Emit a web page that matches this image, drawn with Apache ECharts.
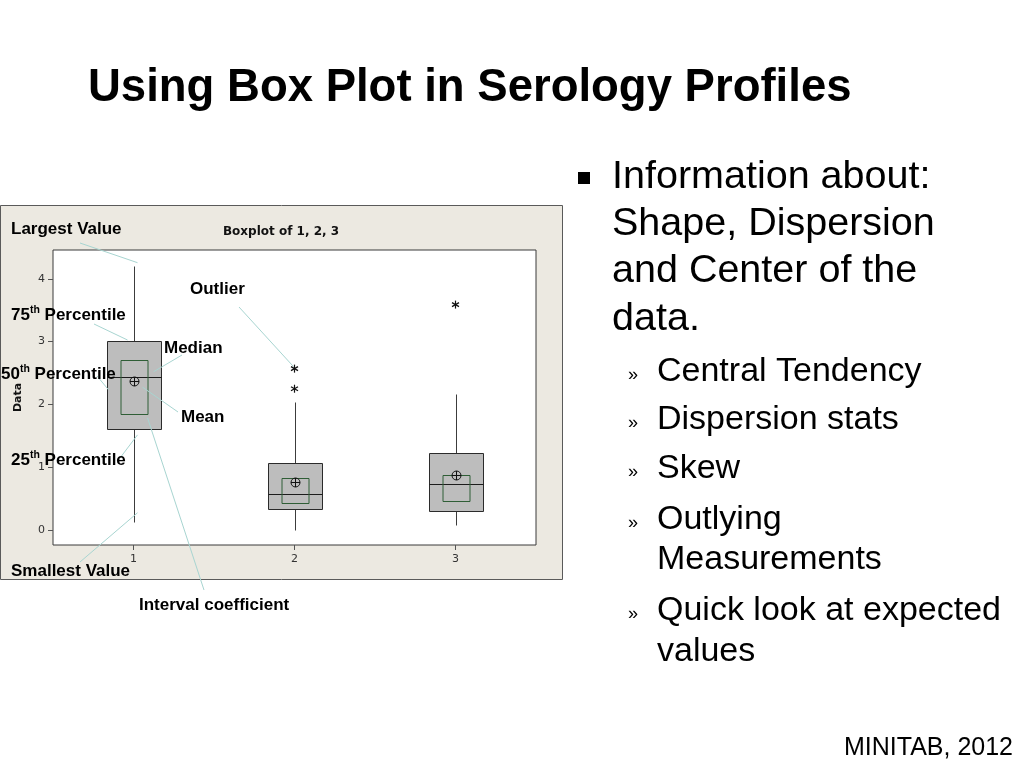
<!DOCTYPE html>
<html>
<head>
<meta charset="utf-8">
<script src="https://cdn.jsdelivr.net/npm/echarts@6/dist/echarts.min.js"></script>
<style>
  html, body { margin: 0; padding: 0; background: #fff; }
  #main { width: 1024px; height: 768px; }
</style>
</head>
<body>
<div id="main"></div>
<script>
// boxplot of 1, 2, 3
const categories = ['1', '2', '3']
const whiskerLow = [0.13, 0.0, 0.08]
const q1 = [1.61, 0.33, 0.3]
const median = [2.44, 0.57, 0.73]
const q3 = [3.01, 1.07, 1.23]
const whiskerHigh = [4.21, 2.04, 2.17]
const mean = [2.37, 0.77, 0.88]
const ciLow = [1.85, 0.43, 0.46]
const ciHigh = [2.71, 0.83, 0.88]
const outlierCat = ['2', '2', '3']
const outlierVal = [2.57, 2.25, 3.59]
const yTicks = [0, 1, 2, 3, 4]

const bulletMain = ['Information about:', 'Shape, Dispersion', 'and Center of the', 'data.']
const bulletSub = [['Central Tendency'], ['Dispersion stats'], ['Skew'], ['Outlying', 'Measurements'], ['Quick look at expected', 'values']]

const sans = '"Liberation Sans", Arial, sans-serif'
const tahoma = '"DejaVu Sans", Verdana, sans-serif'
const leader = '#a8d5d1'

const crisp = v => Math.round(v) + 0.5

function renderBox(params, api) {
  const band = api.size([1, 0])[0]
  const bw = Math.round(band * 0.335)
  const cw = Math.round(band * 0.168)
  const x = crisp(api.coord([api.value(0), 0])[0])
  const y = i => crisp(api.coord([api.value(0), api.value(i)])[1])
  const dark = { stroke: '#3c3c3c', lineWidth: 1 }
  const my = y(6)
  return {
    type: 'group',
    children: [
      { type: 'line', shape: { x1: x, y1: y(1), x2: x, y2: y(2) }, style: dark },
      { type: 'line', shape: { x1: x, y1: y(4), x2: x, y2: y(5) }, style: dark },
      {
        type: 'rect',
        shape: { x: x - bw / 2, y: y(4), width: bw, height: y(2) - y(4) },
        style: { fill: '#bdbdbd', stroke: '#2b2b2b', lineWidth: 1 },
      },
      { type: 'line', shape: { x1: x - bw / 2, y1: y(3), x2: x + bw / 2, y2: y(3) }, style: { stroke: '#1c1c1c', lineWidth: 1 } },
      {
        type: 'rect',
        shape: { x: x - cw / 2, y: y(8), width: cw, height: y(7) - y(8) },
        style: { fill: 'none', stroke: '#2f5e36', lineWidth: 1 },
      },
      { type: 'circle', shape: { cx: x, cy: my, r: 4.5 }, style: { fill: 'none', stroke: '#111', lineWidth: 1 } },
      { type: 'line', shape: { x1: x - 4.5, y1: my, x2: x + 4.5, y2: my }, style: { stroke: '#111', lineWidth: 1 } },
      { type: 'line', shape: { x1: x, y1: my - 4.5, x2: x, y2: my + 4.5 }, style: { stroke: '#111', lineWidth: 1 } },
    ],
  }
}

function renderStar(params, api) {
  const p = api.coord([api.value(0), api.value(1)])
  const x = p[0], y = p[1]
  const s = { stroke: '#111', lineWidth: 1.2 }
  return {
    type: 'group',
    children: [
      { type: 'line', shape: { x1: x, y1: y - 4, x2: x, y2: y + 4 }, style: s },
      { type: 'line', shape: { x1: x - 3.5, y1: y - 2, x2: x + 3.5, y2: y + 2 }, style: s },
      { type: 'line', shape: { x1: x - 3.5, y1: y + 2, x2: x + 3.5, y2: y - 2 }, style: s },
    ],
  }
}

const boxData = categories.map((c, i) => [i, whiskerLow[i], q1[i], median[i], q3[i], whiskerHigh[i], mean[i], ciLow[i], ciHigh[i]])
const starData = outlierCat.map((c, i) => [categories.indexOf(c), outlierVal[i]])

const chart = echarts.init(document.getElementById('main'))
chart.setOption({
  animation: false,
  backgroundColor: '#fff',
  grid: {
    left: 53,
    top: 250,
    width: 483,
    height: 295,
    show: true,
    backgroundColor: '#fff',
    borderColor: '#3a3a3a',
    borderWidth: 1,
  },
  xAxis: {
    type: 'category',
    data: categories,
    boundaryGap: true,
    axisLine: { show: false, onZero: false },
    axisTick: { show: true, alignWithLabel: true, length: 5, lineStyle: { color: '#555' } },
    axisLabel: { color: '#333', fontSize: 11, fontFamily: tahoma, margin: 9 },
    splitLine: { show: false },
  },
  yAxis: {
    type: 'value',
    min: -0.24,
    max: 4.46,
    name: 'Data',
    nameLocation: 'middle',
    nameRotate: 90,
    nameGap: 29,
    nameTextStyle: { color: '#111', fontSize: 11, fontWeight: 'bold', fontFamily: tahoma },
    axisLine: { show: false },
    splitLine: { show: false },
    axisTick: { show: true, length: 5, customValues: yTicks, lineStyle: { color: '#555' } },
    axisLabel: { color: '#333', fontSize: 11, fontFamily: tahoma, margin: 8, customValues: yTicks },
  },
  series: [
    { type: 'custom', renderItem: renderBox, data: boxData, encode: { x: 0, y: [1, 5] }, z: 3 },
    { type: 'custom', renderItem: renderStar, data: starData, encode: { x: 0, y: 1 }, z: 4 },
  ],
})

// annotations pointing at the first box and the outliers
const px = (i, v) => chart.convertToPixel({ gridIndex: 0 }, [i, v])
const lead = (x1, y1, p, dx, dy) => ({
  type: 'line',
  z: 100,
  shape: { x1, y1, x2: p[0] + dx, y2: p[1] + dy },
  style: { stroke: leader, lineWidth: 1 },
})
const lbl = (x, y, text) => ({
  type: 'text',
  x,
  y,
  z: 101,
  style: { text, fill: '#000', fontSize: 17, fontWeight: 'bold', fontFamily: sans, verticalAlign: 'middle' },
})
const supLbl = (x, y, num, rest) => ({
  type: 'text',
  x,
  y,
  z: 101,
  style: {
    text: `{n|${num}}{s|th}{n|${rest}}`,
    verticalAlign: 'middle',
    rich: {
      n: { fill: '#000', fontSize: 17, fontWeight: 'bold', fontFamily: sans, lineHeight: 20 },
      s: { fill: '#000', fontSize: 10.5, fontWeight: 'bold', fontFamily: sans, verticalAlign: 'top' },
    },
  },
})

const graphics = [
  {
    type: 'rect',
    z: -1,
    shape: { x: 0.5, y: 205.5, width: 562, height: 374 },
    style: { fill: '#ece9e1', stroke: '#5a5a5a', lineWidth: 1 },
  },
  {
    type: 'text',
    x: 281,
    y: 232,
    z: 5,
    style: { text: 'Boxplot of 1, 2, 3', fill: '#111', fontSize: 12, fontWeight: 'bold', fontFamily: tahoma, align: 'center', verticalAlign: 'middle' },
  },
  lead(80, 243, px(0, whiskerHigh[0]), 4, -3),
  lead(94, 324, px(0, q3[0]), -6, -1),
  lead(182, 355, px(0, median[0]), 20, -5),
  lead(97, 376, px(0, median[0]), -25, 13),
  lead(178, 412, px(0, mean[0]), 9, 6),
  lead(120, 458, px(0, q1[0]), 4, 6),
  lead(80, 562, px(0, whiskerLow[0]), 4, -9),
  lead(239, 307, px(categories.indexOf(outlierCat[0]), outlierVal[0]), -1, -2),
  lead(204, 590, px(0, ciLow[0]), 14, 4),
  lbl(11, 229, 'Largest Value'),
  supLbl(11, 315, '75', ' Percentile'),
  lbl(190, 289, 'Outlier'),
  lbl(164, 348, 'Median'),
  supLbl(1, 374, '50', ' Percentile'),
  lbl(181, 417, 'Mean'),
  supLbl(11, 460, '25', ' Percentile'),
  lbl(11, 571, 'Smallest Value'),
  lbl(139, 605, 'Interval coefficient'),
  // slide text
  {
    type: 'text',
    x: 88,
    y: 88,
    style: { text: 'Using Box Plot in Serology Profiles', fill: '#000', fontSize: 45.5, fontWeight: 'bold', fontFamily: sans, verticalAlign: 'middle' },
  },
  { type: 'rect', shape: { x: 578, y: 172, width: 12, height: 12 }, style: { fill: '#000' } },
  {
    type: 'text',
    x: 1013,
    y: 748,
    style: { text: 'MINITAB, 2012', fill: '#000', fontSize: 25, fontFamily: sans, align: 'right', verticalAlign: 'middle' },
  },
]

const mainY = [177, 224, 271, 319]
bulletMain.forEach((t, i) => {
  graphics.push({
    type: 'text',
    x: 612,
    y: mainY[i],
    style: { text: t, fill: '#000', fontSize: 39.5, fontFamily: sans, verticalAlign: 'middle' },
  })
})

const subY = [[372], [420], [469], [520, 560], [611, 652]]
bulletSub.forEach((lines, i) => {
  graphics.push({
    type: 'text',
    x: 628,
    y: subY[i][0] + 3,
    style: { text: '»', fill: '#000', fontSize: 18, fontFamily: sans, verticalAlign: 'middle' },
  })
  lines.forEach((t, j) => {
    graphics.push({
      type: 'text',
      x: 657,
      y: subY[i][j],
      style: { text: t, fill: '#000', fontSize: 34, fontFamily: sans, verticalAlign: 'middle' },
    })
  })
})

chart.setOption({ graphic: graphics })
</script>
</body>
</html>
